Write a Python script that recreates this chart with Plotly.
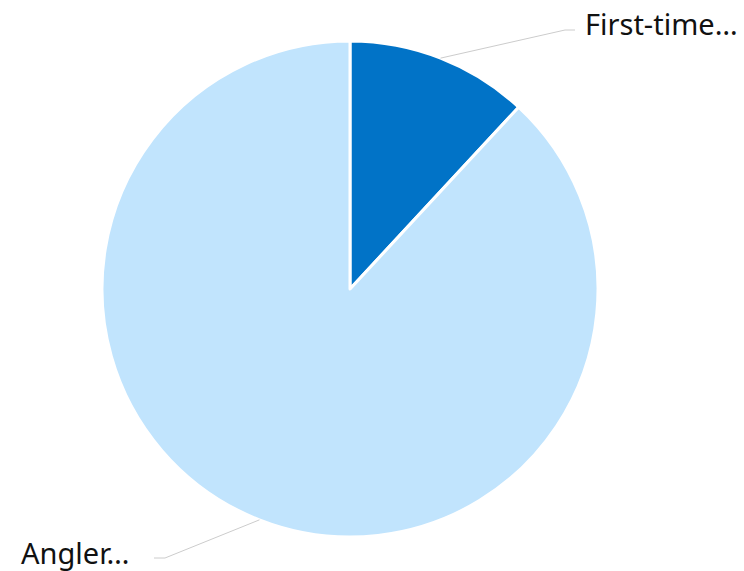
import math
import plotly.graph_objects as go

# Share of respondents by group
labels = ["First-time…", "Angler…"]
values = [11.9, 88.1]
colors = ["#0173C7", "#C1E4FD"]

W, H = 744, 571
CX, CY, R = 350, 289, 248  # pie centre and radius in pixels

# Leader elbow, end of the horizontal tick and text anchor for each slice
elbows = [(565, 30), (165, 558)]
tick_ends = [575, 154]
text_x = [584, 130]
sides = ["right", "left"]


def px_to_paper(x, y):
    return x / W, 1 - y / H


fig = go.Figure(
    go.Pie(
        labels=labels,
        values=values,
        sort=False,
        direction="clockwise",
        rotation=0,
        marker=dict(colors=colors, line=dict(color="white", width=3)),
        textinfo="none",
        hoverinfo="label+percent",
        domain=dict(
            x=[(CX - R) / W, (CX + R) / W],
            y=[1 - (CY + R) / H, 1 - (CY - R) / H],
        ),
        showlegend=False,
    )
)

total = sum(values)
start = 0.0
shapes, annotations = [], []
for lab, val, (ex, ey), hx, tx, side in zip(labels, values, elbows, tick_ends, text_x, sides):
    mid = (start + val / 2) / total * 2 * math.pi
    start += val
    sx = CX + R * math.sin(mid)
    sy = CY - R * math.cos(mid)
    pts = [(sx, sy), (ex, ey), (hx, ey)]
    for (x0, y0), (x1, y1) in zip(pts[:-1], pts[1:]):
        a0, b0 = px_to_paper(x0, y0)
        a1, b1 = px_to_paper(x1, y1)
        shapes.append(dict(type="line", xref="paper", yref="paper",
                           x0=a0, y0=b0, x1=a1, y1=b1,
                           line=dict(color="#CCCCCC", width=1)))
    ax, ay = px_to_paper(tx, ey - 6)
    annotations.append(dict(
        text=lab, x=ax, y=ay, xref="paper", yref="paper",
        xanchor="left" if side == "right" else "right", yanchor="middle",
        showarrow=False, borderpad=0,
        font=dict(family="Noto Sans, Open Sans, sans-serif", size=29, color="#111111"),
    ))

fig.update_layout(
    width=W, height=H,
    margin=dict(l=0, r=0, t=0, b=0),
    paper_bgcolor="white",
    plot_bgcolor="white",
    shapes=shapes,
    annotations=annotations,
)

fig.write_html("out.html")
